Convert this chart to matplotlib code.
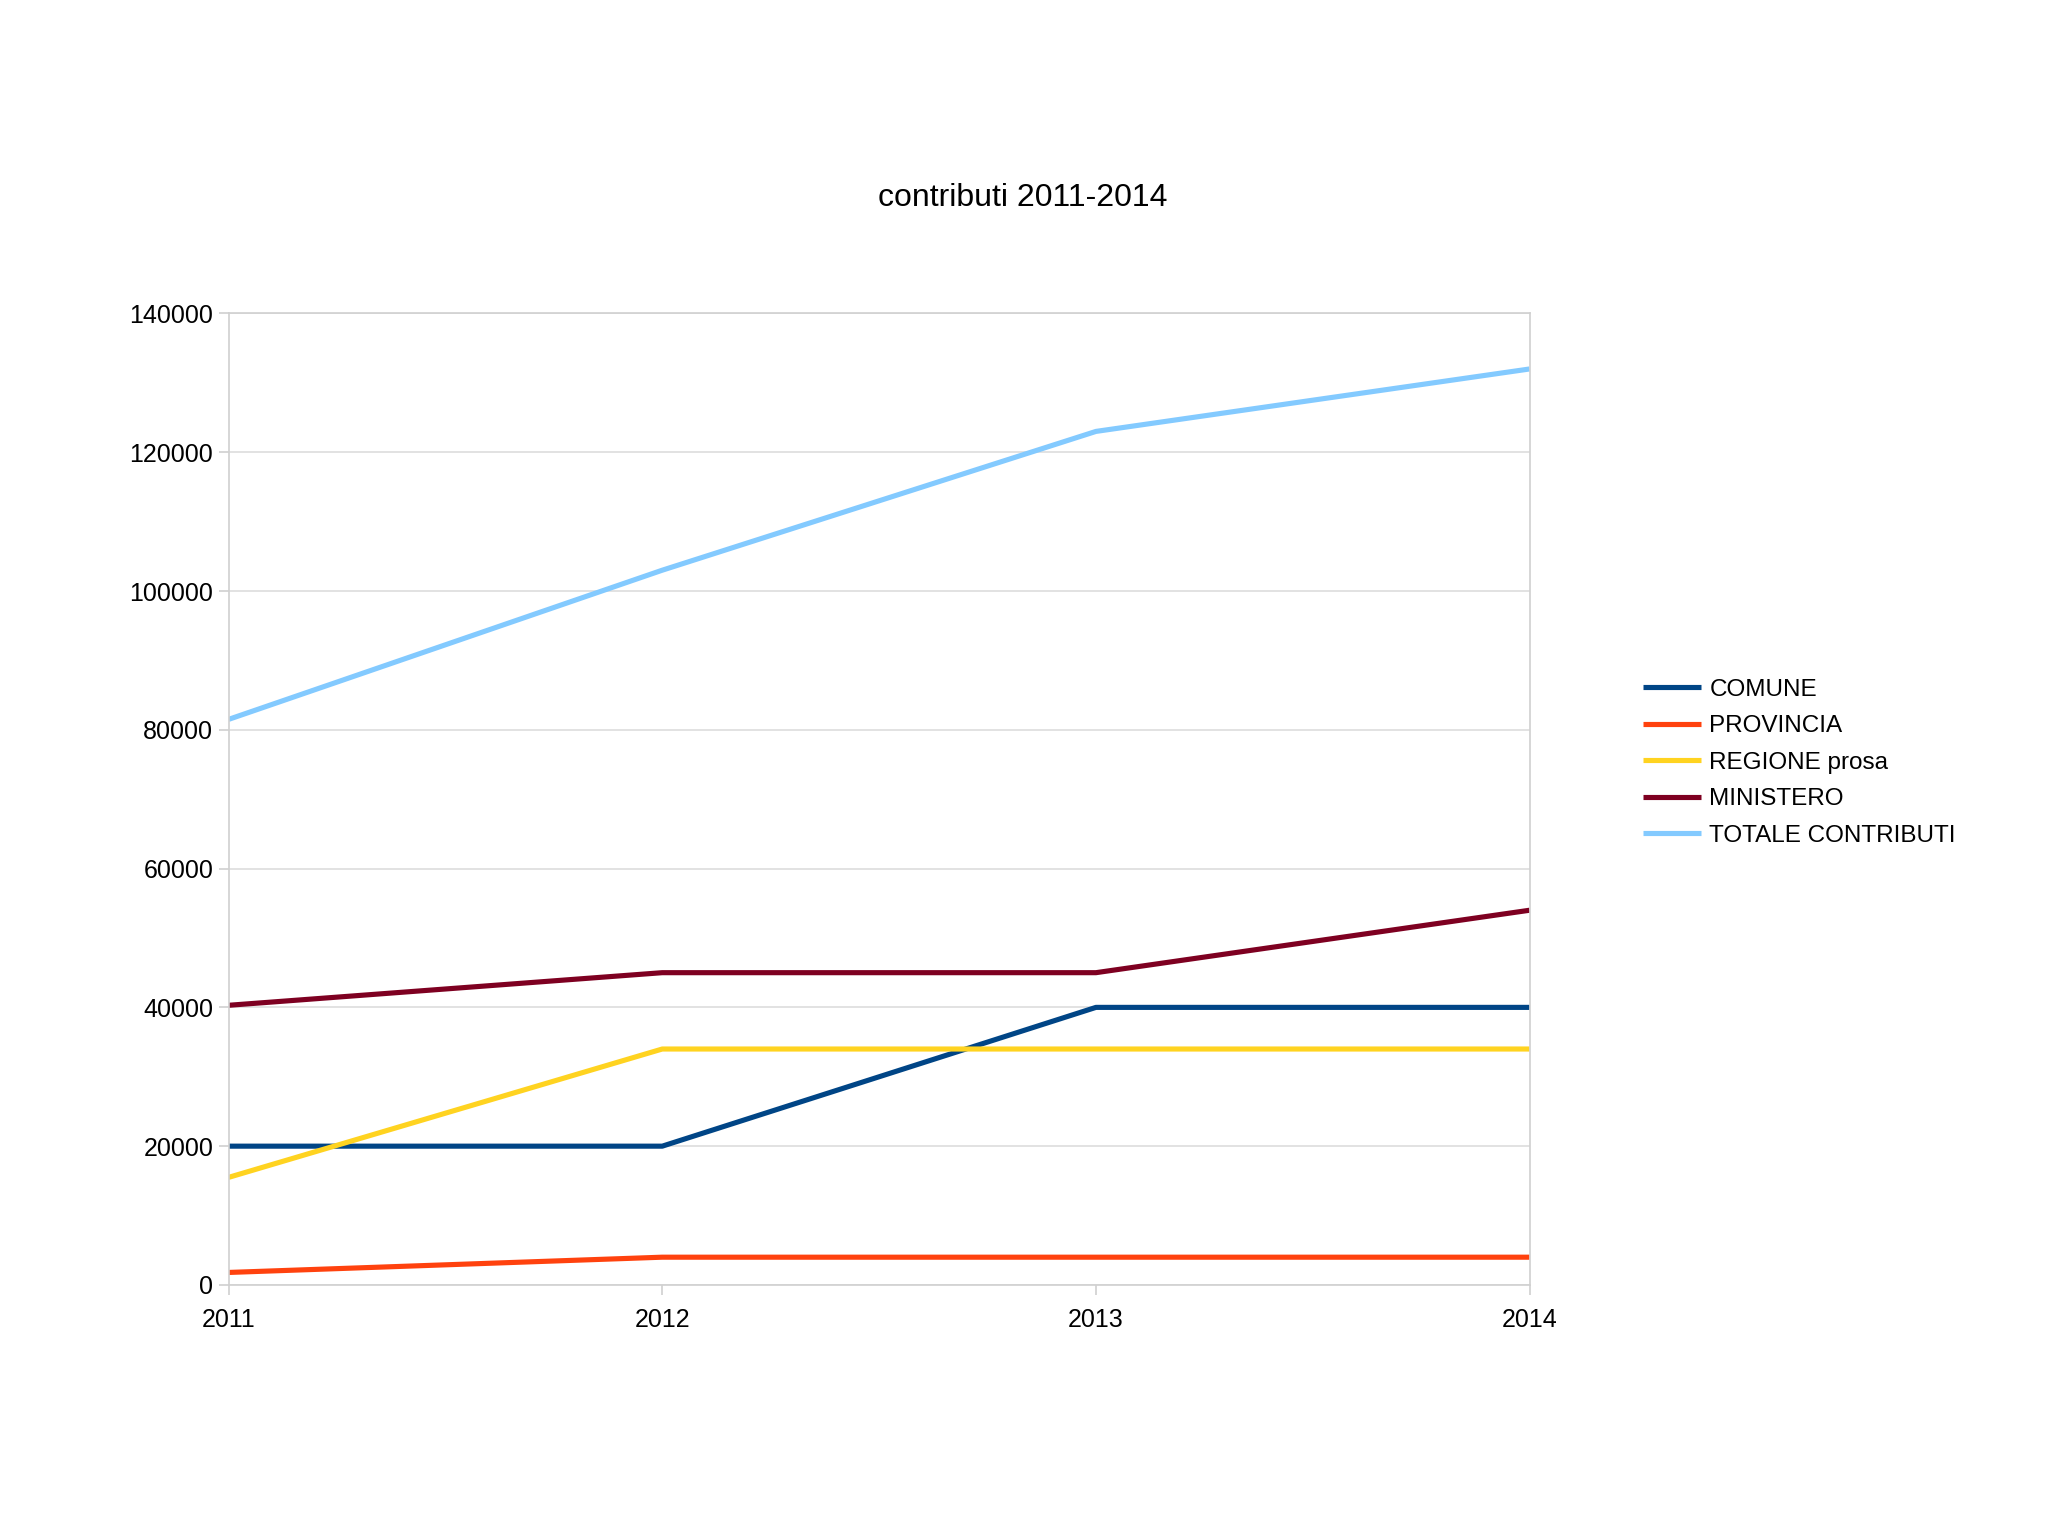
import matplotlib
matplotlib.use("Agg")
from matplotlib import pyplot as plt

# Data
years = [2011, 2012, 2013, 2014]
comune = [20000, 20000, 40000, 40000]
provincia = [1800, 4000, 4000, 4000]
regione = [15500, 34000, 34000, 34000]
ministero = [40300, 45000, 45000, 54000]
totale = [81500, 103000, 123000, 132000]

series = [
    ("COMUNE", comune, "#004586"),
    ("PROVINCIA", provincia, "#ff420e"),
    ("REGIONE prosa", regione, "#ffd320"),
    ("MINISTERO", ministero, "#7e0021"),
    ("TOTALE CONTRIBUTI", totale, "#83caff"),
]

plt.rcParams['font.family'] = ['Liberation Sans', 'DejaVu Sans']

fig = plt.figure(figsize=(20.48, 15.35), dpi=100)
ax = fig.add_axes([0.1116, 0.1629, 0.6353, 0.6329])

for name, vals, col in series:
    ax.plot(years, vals, color=col, lw=3.7, label=name, solid_capstyle='butt')

ax.set_xlim(2011, 2014)
ax.set_ylim(0, 140000)
ax.set_xticks(years)
ax.set_yticks(range(0, 140001, 20000))
ax.grid(axis='y', color='#dddddd', lw=1.2)
ax.set_axisbelow(True)
for s in ax.spines.values():
    s.set_color('#d0d0d0')
    s.set_linewidth(1.2)
ax.tick_params(axis='both', direction='out', length=7, width=1.2, color='#d0d0d0',
               labelsize=18, pad=4)
ax.tick_params(axis='x', pad=9.5)

fig.text(0.4995, 0.871, "contributi 2011-2014", ha='center', va='center', fontsize=23)

ax.legend(loc='center left', bbox_to_anchor=(1.07, 0.5375), frameon=False, fontsize=17.5,
          handlelength=2.4, handletextpad=0.35, labelspacing=0.6)

plt.savefig('out.png', dpi=100)
